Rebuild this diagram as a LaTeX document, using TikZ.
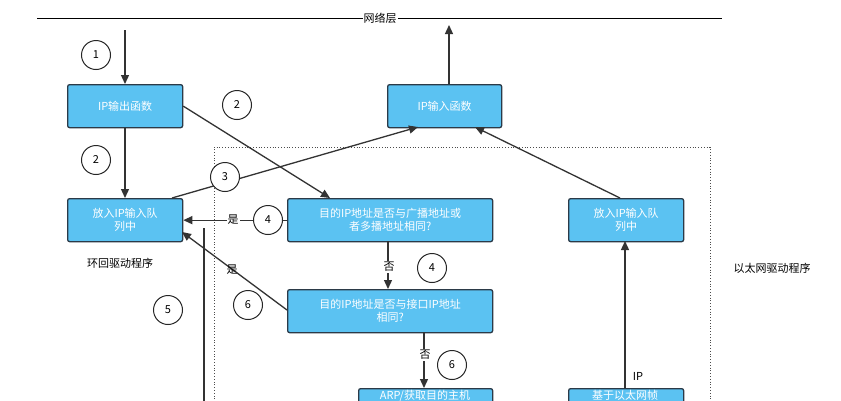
\documentclass[tikz,border=0pt]{standalone}
\usepackage{fontspec}
\setmainfont{Noto Sans CJK SC}
\usetikzlibrary{arrows.meta}
\definecolor{boxblue}{HTML}{5BC2F2}
\definecolor{boxedge}{HTML}{2B3A48}
\begin{document}
\begin{tikzpicture}[x=1pt,y=-1pt,
  box/.style={draw=boxedge,line width=1.3pt,fill=boxblue,rounded corners=2pt,text=white,font=\fontsize{11}{13}\selectfont,align=center,anchor=north west,inner sep=0pt},
  num/.style={draw=black!85,circle,line width=1pt,minimum size=29pt,inner sep=0pt,fill=white,font=\fontsize{11}{13}\selectfont},
  arr/.style={line width=1.3pt,draw=black!80,-{Triangle[length=9pt,width=8pt]}},
  lbl/.style={font=\fontsize{11}{13}\selectfont,fill=white,inner sep=1pt}]
\useasboundingbox (0,0) rectangle (841,400);
\fill[white] (0,0) rectangle (841,400);
\draw[line width=0.8pt,black!70,dotted] (214,402) -- (214,147) -- (710,147) -- (710,402);
\coordinate (nl) at (37,18); \coordinate (nr) at (722,18);
\draw[line width=1pt] (nl) -- (nr);
\node[lbl] (net) at (380,18) {网络层};
\node[box,minimum width=115pt,minimum height=43pt] (out) at (67,84) {IP输出函数};
\node[box,minimum width=114pt,minimum height=43pt] (in) at (387,84) {IP输入函数};
\node[box,minimum width=115pt,minimum height=43pt] (lq) at (67,198) {放入IP输入队\\列中};
\node[box,minimum width=205pt,minimum height=43pt] (bc) at (287,198) {目的IP地址是否与广播地址或\\者多播地址相同?};
\node[box,minimum width=115pt,minimum height=43pt] (rq) at (568,198) {放入IP输入队\\列中};
\node[box,minimum width=205pt,minimum height=43pt] (if) at (287,289) {目的IP地址是否与接口IP地址\\相同?};
\node[box,minimum width=134pt,minimum height=43pt] (arp) at (358,388) {};
\node[box,minimum width=115pt,minimum height=43pt] (eth) at (568,388) {};
\node[text=white,font=\fontsize{11}{13}\selectfont,anchor=north,inner sep=0pt] (arpt) at (425,390) {ARP/获取目的主机};
\node[text=white,font=\fontsize{11}{13}\selectfont,anchor=north,inner sep=0pt] (etht) at (625,390) {基于以太网帧};
\coordinate (top1) at (125,30);
\coordinate (topin) at (449,25);
\draw[arr] (top1) -- (out.north -| top1);
\draw[arr] (out.south -| top1) -- (lq.north -| top1);
\draw[arr] (out.east) -- (330,198);
\draw[arr] (172,198) -- (418,127);
\draw[arr] (in.north -| topin) -- (topin);
\draw[arr] (620,198) -- (475,127);
\draw[arr] (bc.west) -- (lq.east);
\draw[arr] (388,241) -- (388,289);
\draw[arr] (287,310) -- (182,232);
\draw[arr] (424,332) -- (424,388);
\draw[arr] (625,388) -- (625,241);
\coordinate (v1) at (204,228); \coordinate (v2) at (204,402);
\draw[line width=1.3pt,black!80] (v1) -- (v2);
\node[num] (c1) at (96,55) {1};
\node[num] (c2a) at (96,160) {2};
\node[num] (c2b) at (237,105) {2};
\node[num] (c3) at (225,177) {3};
\node[num] (c4a) at (268,220) {4};
\node[num] (c4b) at (432,268) {4};
\node[num] (c5) at (168,310) {5};
\node[num] (c6a) at (248,305) {6};
\node[num] (c6b) at (452,365) {6};
\node[lbl] (y1) at (233,220) {是};
\node[lbl,fill=none] (y2) at (232,270) {是};
\node[lbl] (n1) at (389,267) {否};
\node[lbl] (n2) at (425,355) {否};
\node[lbl] (ip) at (638,376) {IP};
\node[font=\fontsize{11}{13}\selectfont] (lb) at (120,263) {环回驱动程序};
\node[font=\fontsize{11}{13}\selectfont] (eb) at (772,268) {以太网驱动程序};
\end{tikzpicture}
\end{document}
